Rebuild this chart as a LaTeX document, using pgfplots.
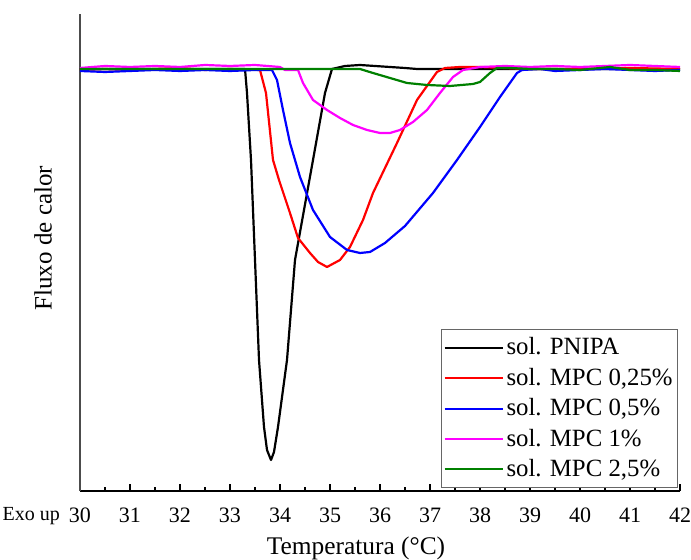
\documentclass[border=0pt]{standalone}
\usepackage{fontspec}
\setmainfont{Liberation Serif}
\usepackage{pgfplots}
\pgfplotsset{compat=1.18}
\definecolor{dgreen}{RGB}{0,128,0}
\definecolor{mag}{RGB}{255,0,255}
\begin{document}
\begin{tikzpicture}
\useasboundingbox (-40pt,-34.5pt) rectangle (305.5pt,245.5pt);
\begin{axis}[
  scale only axis, width=300pt, height=238.5pt,
  at={(0,0)}, anchor=south west,
  xmin=30, xmax=42, ymin=0, ymax=477,
  clip=false,
  axis x line*=bottom, axis y line*=left,
  axis line style={line width=0.9pt, -},
  y axis line style={draw=black!70},
  xtick={30,31,...,42}, minor x tick num=1,
  ytick=\empty,
  tick align=inside,
  major tick length=3.5pt, minor tick length=2pt,
  tick style={line width=0.8pt, black},
  /pgf/number format/assume math mode=true,
  x tick label style={font=\fontsize{11}{12}\selectfont, yshift=-5pt},
  xlabel={Temperatura (°C)}, ylabel={Fluxo de calor},
  xlabel style={at={(axis description cs:0.46,-0.1195)}, anchor=center, font=\fontsize{12.7}{15}\selectfont},
  ylabel style={at={(axis description cs:-0.0617,0.53)}, anchor=center, font=\fontsize{12.5}{15}\selectfont},
  legend style={at={(axis description cs:0.997,0.006)}, anchor=south east,
    draw=black!60, line width=0.6pt, font=\fontsize{12.4}{14}\selectfont,
    row sep=2.1pt, inner xsep=1pt, inner ysep=2.5pt,
    nodes={inner sep=1.5pt}},
  legend cell align=left,
  legend image code/.code={\draw[#1,line width=1pt] (0pt,0pt) -- (29pt,0pt);},
  every axis plot/.append style={line width=1.1pt, line join=round},
]
\addplot[black] coordinates {
(30,422) (31,422) (32,422) (33,422) (33.3,422)
(33.34,398) (33.42,331) (33.50,231) (33.58,131) (33.68,64) (33.74,41) (33.82,31)
(33.88,39) (33.96,64) (34.14,131) (34.30,231) (34.66,331) (34.90,398) (35.04,422)
(35.3,425) (35.6,426) (35.9,425) (36.2,424) (36.5,423) (36.74,422) (37.2,422) (38,422) (40,422) (42,422)
};
\addlegendentry{sol. PNIPA}
\addplot[red] coordinates {
(30,421) (30.5,422) (31,421) (31.5,422) (32,423) (32.5,421) (33,422) (33.6,421)
(33.72,398) (33.86,331) (33.98,311) (34.2,278) (34.36,253) (34.6,238) (34.76,229) (34.94,224)
(35.2,231) (35.4,244) (35.66,271) (35.86,298) (36.34,348) (36.74,391) (37.14,419) (37.3,423)
(37.6,424) (38,424) (38.5,423) (39,422) (40,422) (41,423) (42,422)
};
\addlegendentry{sol. MPC 0,25\%}
\addplot[blue] coordinates {
(30,420) (30.5,419) (31,420) (31.5,421) (32,420) (32.5,421) (33,420) (33.5,421) (33.84,421)
(33.94,411) (34.06,381) (34.2,348) (34.4,314) (34.66,281) (35.0,254) (35.34,241) (35.6,238)
(35.8,239) (36.1,248) (36.5,265) (37.06,298) (37.54,331) (38.0,364) (38.4,394) (38.74,418) (38.84,421)
(39.2,422) (39.5,420) (40,421) (40.5,422) (41,421) (41.5,420) (42,421)
};
\addlegendentry{sol. MPC 0,5\%}
\addplot[mag] coordinates {
(30,423) (30.5,425) (31,424) (31.5,425) (32,424) (32.5,426) (33,425) (33.5,426) (34.0,424)
(34.1,421) (34.36,421) (34.46,408) (34.66,391) (34.94,381) (35.2,373) (35.46,366) (35.74,361)
(36.0,358) (36.2,358) (36.4,361) (36.66,369) (36.94,381) (37.2,398) (37.46,414) (37.66,421)
(38,424) (38.5,425) (39,424) (39.5,425) (40,424) (40.5,425) (41,426) (41.5,425) (42,424)
};
\addlegendentry{sol. MPC 1\%}
\addplot[dgreen] coordinates {
(30,422) (31,422) (32,422) (33,422) (34,422) (35,422) (35.6,422)
(35.86,418) (36.2,413) (36.54,408) (36.94,406) (37.4,405) (37.86,407) (38.0,409) (38.2,418) (38.34,423)
(38.6,423) (39,422) (39.5,422) (40,421) (40.6,424) (41,421) (41.5,421) (42,420)
};
\addlegendentry{sol. MPC 2,5\%}
\node[anchor=east, font=\fontsize{10}{12}\selectfont] at (rel axis cs:0,0) [xshift=-6.5pt, yshift=-12.5pt] {Exo up};
\end{axis}
\end{tikzpicture}
\end{document}
